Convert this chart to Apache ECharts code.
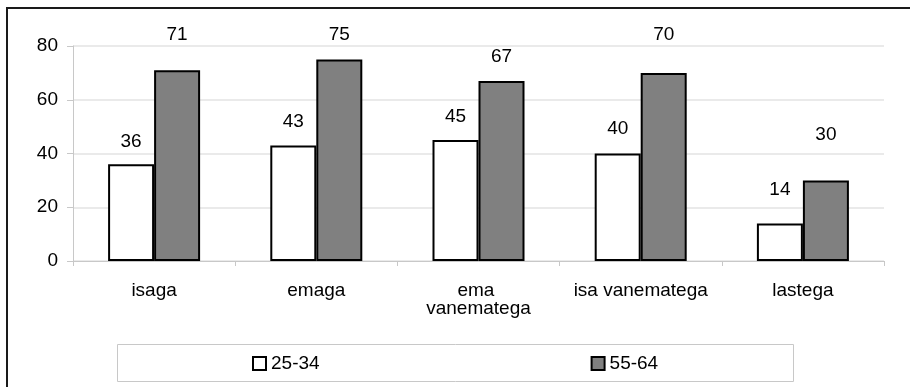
<!DOCTYPE html>
<html>
<head>
<meta charset="utf-8">
<script src="https://cdn.jsdelivr.net/npm/echarts@6/dist/echarts.min.js"></script>
<style>
html,body{margin:0;padding:0;background:#fff;}
#chart{width:910px;height:387px;}
</style>
</head>
<body>
<div id="chart"></div>
<script>
const categories = ['isaga', 'emaga', 'ema vanematega', 'isa vanematega', 'lastega'];
const seriesNames = ['25-34', '55-64'];
const values2534 = [36, 43, 45, 40, 14];
const values5564 = [71, 75, 67, 70, 30];
const yTicks = [0, 20, 40, 60, 80];

// label spacing above each bar (style only)
const labelGap2534 = [13, 14, 14, 15, 24];
const labelGap5564 = [26, 15, 15, 29, 36];

const FONT = 'Liberation Sans, Arial, sans-serif';

function withLabels(vals, gaps) {
  return vals.map((v, i) => ({ value: v, label: { distance: gaps[i] } }));
}

const chart = echarts.init(document.getElementById('chart'), null, { renderer: 'canvas' });
chart.setOption({
  animation: false,
  backgroundColor: '#ffffff',
  textStyle: { fontFamily: FONT },
  graphic: [
    { type: 'rect', z: 100, silent: true,
      shape: { x: 7, y: 8, width: 1000, height: 1000 },
      style: { fill: 'none', stroke: '#1a1a1a', lineWidth: 2 } },
    { type: 'rect', z: 0, silent: true,
      shape: { x: 117.5, y: 344.5, width: 676, height: 37 },
      style: { fill: '#ffffff', stroke: '#c8c8c8', lineWidth: 1 } }
  ],
  legend: {
    data: seriesNames,
    left: 252,
    top: 354,
    padding: 0,
    itemGap: 271,
    itemWidth: 13,
    itemHeight: 13,
    itemTextGap: 4,
    icon: 'rect',
    textStyle: { fontSize: 19, color: '#000', fontFamily: FONT }
  },
  grid: { left: 73, right: 26, top: 46, bottom: 126, containLabel: false },
  xAxis: {
    type: 'category',
    data: categories,
    axisLine: { lineStyle: { color: '#c8c8c8', width: 1 } },
    axisTick: { show: true, length: 5, lineStyle: { color: '#c8c8c8' } },
    axisLabel: {
      color: '#000', fontSize: 19, fontFamily: FONT, margin: 21,
      lineHeight: 18, width: 140, overflow: 'break', interval: 0
    }
  },
  yAxis: {
    type: 'value',
    min: yTicks[0],
    max: yTicks[yTicks.length - 1],
    interval: yTicks[1] - yTicks[0],
    axisLine: { show: true, lineStyle: { color: '#c8c8c8', width: 1 } },
    axisTick: { show: true, length: 6, lineStyle: { color: '#c8c8c8' } },
    axisLabel: { color: '#000', fontSize: 19, fontFamily: FONT, margin: 15 },
    splitLine: { show: true, lineStyle: { color: '#e3e3e3', width: 1.5 } }
  },
  series: [
    {
      name: seriesNames[0],
      type: 'bar',
      data: withLabels(values2534, labelGap2534),
      barWidth: 46,
      barGap: '0%',
      itemStyle: { color: '#ffffff', borderColor: '#000000', borderWidth: 2 },
      label: { show: true, position: 'top', color: '#000', fontSize: 19, fontFamily: FONT }
    },
    {
      name: seriesNames[1],
      type: 'bar',
      data: withLabels(values5564, labelGap5564),
      barWidth: 46,
      barGap: '0%',
      itemStyle: { color: '#808080', borderColor: '#000000', borderWidth: 2 },
      label: { show: true, position: 'top', color: '#000', fontSize: 19, fontFamily: FONT }
    }
  ]
});
</script>
</body>
</html>
